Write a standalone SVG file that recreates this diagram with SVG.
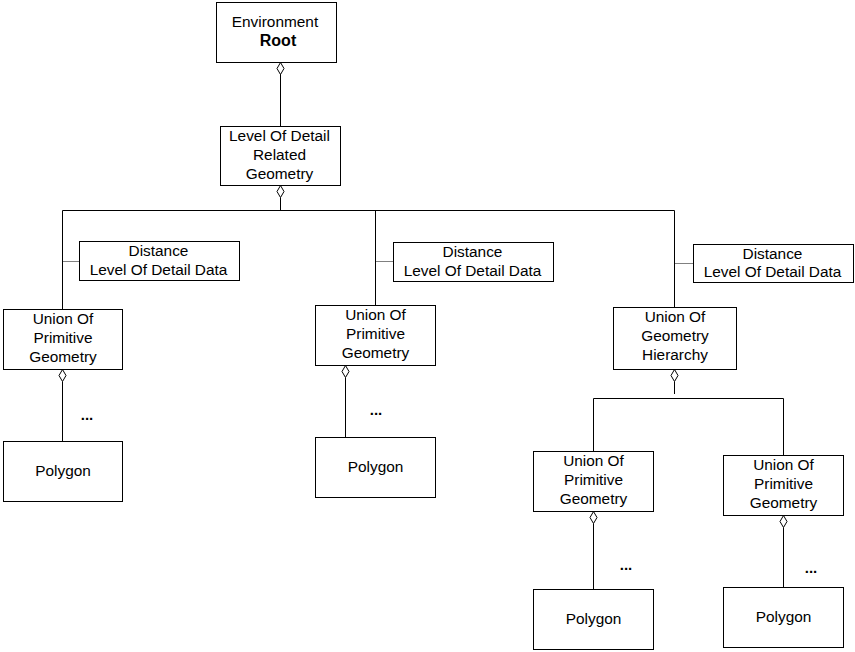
<svg xmlns="http://www.w3.org/2000/svg" width="855" height="652" viewBox="0 0 855 652">
<defs>
<style>
.box{fill:#fff;stroke:#000;stroke-width:1}
.ln{fill:none;stroke:#000;stroke-width:1}
.dot{fill:none;stroke:#000;stroke-width:1;stroke-dasharray:1 1}
.dia{fill:#fff;stroke:#000;stroke-width:1}
text{font-family:"Liberation Sans",Arial,sans-serif;font-size:15.4px;fill:#000;text-anchor:middle}
.b{font-weight:bold;font-size:16px}
.el{font-weight:bold;font-size:15px}
</style>
<path id="dm" d="M0,0 L3.5,6 L0,12 L-3.5,6 Z"/>
</defs>
<rect width="855" height="652" fill="#fff"/>
<g id="connectors">
<line class="ln" x1="280.5" y1="72.5" x2="280.5" y2="126.5"/>
<line class="ln" x1="280.5" y1="197.5" x2="280.5" y2="210.5"/>
<line class="ln" x1="62.5" y1="210.5" x2="674.5" y2="210.5"/>
<line class="ln" x1="62.5" y1="210.5" x2="62.5" y2="309.5"/>
<line class="ln" x1="375.5" y1="210.5" x2="375.5" y2="305.5"/>
<line class="ln" x1="674.5" y1="210.5" x2="674.5" y2="307.5"/>
<line class="dot" x1="62.5" y1="261.5" x2="79.5" y2="261.5"/>
<line class="dot" x1="375.5" y1="261.5" x2="393.5" y2="261.5"/>
<line class="dot" x1="674.5" y1="263.5" x2="693.5" y2="263.5"/>
<line class="ln" x1="62.5" y1="381.5" x2="62.5" y2="441.5"/>
<line class="ln" x1="345.5" y1="377.5" x2="345.5" y2="437.5"/>
<line class="ln" x1="674.5" y1="381.5" x2="674.5" y2="394"/>
<line class="ln" x1="593.5" y1="398.5" x2="783.5" y2="398.5"/>
<line class="ln" x1="593.5" y1="398.5" x2="593.5" y2="451.5"/>
<line class="ln" x1="783.5" y1="398.5" x2="783.5" y2="455.5"/>
<line class="ln" x1="593.5" y1="523.5" x2="593.5" y2="589.5"/>
<line class="ln" x1="783.5" y1="527.5" x2="783.5" y2="587.5"/>
<use href="#dm" class="dia" x="280.5" y="62.5"/>
<use href="#dm" class="dia" x="280.5" y="185.5"/>
<use href="#dm" class="dia" x="62.5" y="369.5"/>
<use href="#dm" class="dia" x="345.5" y="365.5"/>
<use href="#dm" class="dia" x="674.5" y="369.5"/>
<use href="#dm" class="dia" x="593.5" y="511.5"/>
<use href="#dm" class="dia" x="783.5" y="515.5"/>
<text class="el" x="87" y="420">...</text>
<text class="el" x="376" y="415">...</text>
<text class="el" x="626" y="570">...</text>
<text class="el" x="811" y="573">...</text>
</g>
<g id="root">
<rect class="box" x="216.5" y="2.5" width="120" height="60"/>
<text x="275" y="27">Environment</text>
<text class="b" x="278" y="46">Root</text>
</g>
<g id="lod">
<rect class="box" x="220.5" y="126.5" width="120" height="59"/>
<text x="279.5" y="141">Level Of Detail</text>
<text x="279.5" y="160">Related</text>
<text x="279.5" y="179">Geometry</text>
</g>
<g id="dist1">
<rect class="box" x="79.5" y="241.5" width="160" height="39"/>
<text x="158.5" y="256">Distance</text>
<text x="158.5" y="275">Level Of Detail Data</text>
</g>
<g id="dist2">
<rect class="box" x="393.5" y="242.5" width="160" height="39"/>
<text x="472.5" y="257">Distance</text>
<text x="472.5" y="276">Level Of Detail Data</text>
</g>
<g id="dist3">
<rect class="box" x="693.5" y="244.5" width="160" height="38"/>
<text x="772.5" y="259">Distance</text>
<text x="772.5" y="277">Level Of Detail Data</text>
</g>
<g id="upg1">
<rect class="box" x="3.5" y="309.5" width="119" height="60"/>
<text x="63" y="324">Union Of</text>
<text x="63" y="343">Primitive</text>
<text x="63" y="362">Geometry</text>
</g>
<g id="upg2">
<rect class="box" x="315.5" y="305.5" width="120" height="60"/>
<text x="375.5" y="320">Union Of</text>
<text x="375.5" y="339">Primitive</text>
<text x="375.5" y="358">Geometry</text>
</g>
<g id="ugh">
<rect class="box" x="613.5" y="307.5" width="123" height="62"/>
<text x="675" y="322">Union Of</text>
<text x="675" y="341">Geometry</text>
<text x="675" y="360">Hierarchy</text>
</g>
<g id="upgA">
<rect class="box" x="533.5" y="451.5" width="120" height="60"/>
<text x="593.5" y="466">Union Of</text>
<text x="593.5" y="485">Primitive</text>
<text x="593.5" y="504">Geometry</text>
</g>
<g id="upgB">
<rect class="box" x="723.5" y="455.5" width="120" height="60"/>
<text x="783.5" y="470">Union Of</text>
<text x="783.5" y="489">Primitive</text>
<text x="783.5" y="508">Geometry</text>
</g>
<g id="poly1">
<rect class="box" x="3.5" y="441.5" width="119" height="60"/>
<text x="63" y="476">Polygon</text>
</g>
<g id="poly2">
<rect class="box" x="315.5" y="437.5" width="120" height="60"/>
<text x="375.5" y="472">Polygon</text>
</g>
<g id="polyA">
<rect class="box" x="533.5" y="589.5" width="120" height="60"/>
<text x="593.5" y="624">Polygon</text>
</g>
<g id="polyB">
<rect class="box" x="723.5" y="587.5" width="120" height="60"/>
<text x="783.5" y="622">Polygon</text>
</g>
</svg>
